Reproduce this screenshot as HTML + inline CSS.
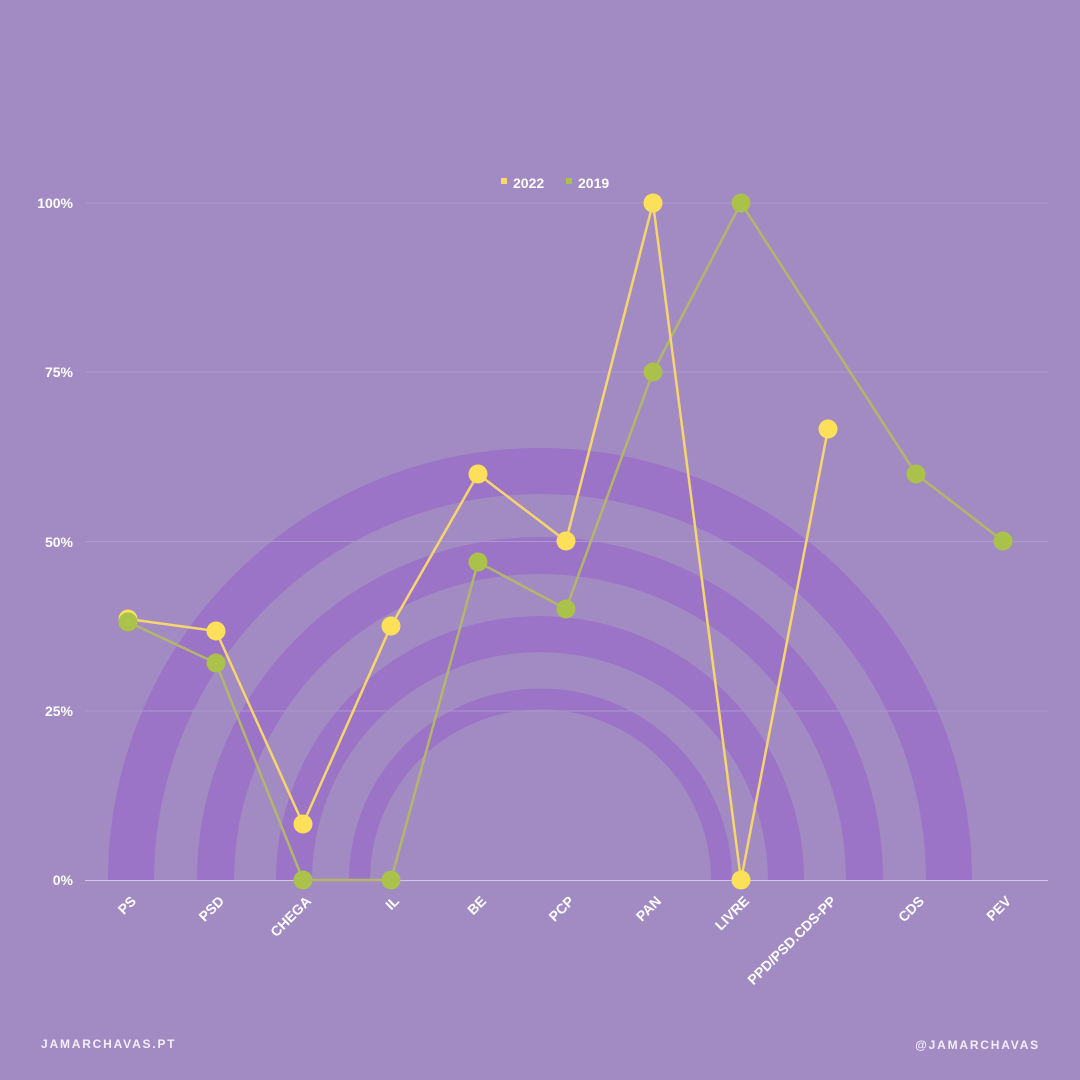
<!DOCTYPE html>
<html><head><meta charset="utf-8"><style>
html,body{margin:0;padding:0;background:#a28ac3;}
svg{display:block;font-family:"Liberation Sans",sans-serif;}
</style></head><body>
<svg width="1080" height="1080" viewBox="0 0 1080 1080">
<rect width="1080" height="1080" fill="#a28ac3"/>
<g fill="none" stroke="#9b73c7">
<path d="M131,880 A409,409 0 0 1 949,880" stroke-width="46"/>
<path d="M215.5,880 A324.5,324.5 0 0 1 864.5,880" stroke-width="37"/>
<path d="M294,880 A246,246 0 0 1 786,880" stroke-width="36"/>
<path d="M359.5,880 A181,181 0 0 1 721.5,880" stroke-width="21"/>
</g>
<g stroke="#ad98cf" stroke-width="1">
<line x1="85" y1="203" x2="1048" y2="203"/>
<line x1="85" y1="372" x2="1048" y2="372"/>
<line x1="85" y1="541.5" x2="1048" y2="541.5"/>
<line x1="85" y1="711" x2="1048" y2="711"/>
<line x1="85" y1="880.5" x2="1048" y2="880.5" stroke="#d4c6ea"/>
</g>
<g fill="#fff" font-size="14" font-weight="bold" text-anchor="end">
<text x="73" y="208">100%</text>
<text x="73" y="377">75%</text>
<text x="73" y="547">50%</text>
<text x="73" y="716">25%</text>
<text x="73" y="885">0%</text>
</g>
<g fill="#fff" font-size="14" font-weight="bold" text-anchor="end">
<text transform="translate(137,902) rotate(-45)">PS</text>
<text transform="translate(225,902) rotate(-45)">PSD</text>
<text transform="translate(312,902) rotate(-45)">CHEGA</text>
<text transform="translate(400,902) rotate(-45)">IL</text>
<text transform="translate(487,902) rotate(-45)">BE</text>
<text transform="translate(575,902) rotate(-45)">PCP</text>
<text transform="translate(662,902) rotate(-45)">PAN</text>
<text transform="translate(750,902) rotate(-45)">LIVRE</text>
<text transform="translate(837,902) rotate(-45)">PPD/PSD.CDS-PP</text>
<text transform="translate(925,902) rotate(-45)">CDS</text>
<text transform="translate(1012,902) rotate(-45)">PEV</text>
</g>
<polyline fill="none" stroke="#b3b56a" stroke-width="2.5" points="128,622 216,663 303,880 391,880 478,562 566,609 653,372 741,203 916,474 1003,541"/>
<polyline fill="none" stroke="#f7d56e" stroke-width="2.5" points="128,619 216,631 303,824 391,626 478,474 566,541 653,203 741,880 828,429"/>
<g fill="#fde05a">
<circle cx="128" cy="619" r="9.5"/><circle cx="216" cy="631" r="9.5"/><circle cx="303" cy="824" r="9.5"/><circle cx="391" cy="626" r="9.5"/><circle cx="478" cy="474" r="9.5"/><circle cx="566" cy="541" r="9.5"/><circle cx="653" cy="203" r="9.5"/><circle cx="741" cy="880" r="9.5"/><circle cx="828" cy="429" r="9.5"/>
</g>
<g fill="#aac14a">
<circle cx="128" cy="622" r="9.5"/><circle cx="216" cy="663" r="9.5"/><circle cx="303" cy="880" r="9.5"/><circle cx="391" cy="880" r="9.5"/><circle cx="478" cy="562" r="9.5"/><circle cx="566" cy="609" r="9.5"/><circle cx="653" cy="372" r="9.5"/><circle cx="741" cy="203" r="9.5"/><circle cx="916" cy="474" r="9.5"/><circle cx="1003" cy="541" r="9.5"/>
</g>
<rect x="501" y="178" width="6" height="6" fill="#fbd76a"/>
<text x="513" y="188" fill="#fff" font-size="14" font-weight="bold">2022</text>
<rect x="566" y="178" width="6" height="6" fill="#aac14a"/>
<text x="578" y="188" fill="#fff" font-size="14" font-weight="bold">2019</text>
<text x="41" y="1048" fill="#f3eefa" font-size="12" font-weight="bold" letter-spacing="1.8">JAMARCHAVAS.PT</text>
<text x="1040" y="1049" fill="#f3eefa" font-size="12" font-weight="bold" letter-spacing="1.8" text-anchor="end">@JAMARCHAVAS</text>
</svg>
</body></html>
